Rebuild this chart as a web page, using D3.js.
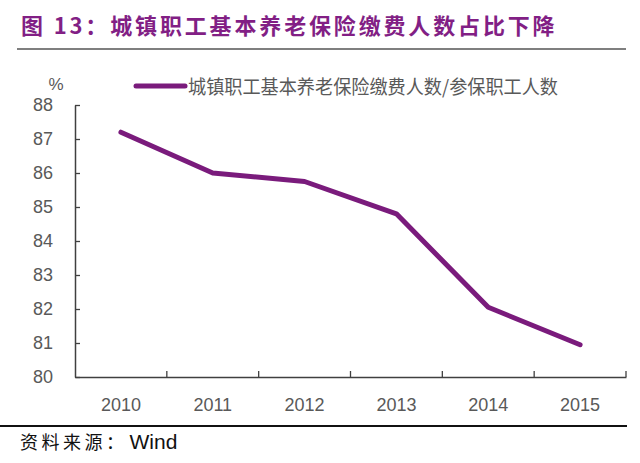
<!DOCTYPE html>
<html>
<head>
<meta charset="utf-8">
<script src="https://cdn.jsdelivr.net/npm/d3@7"></script>
<style>
  html, body { margin: 0; padding: 0; background: #fff; }
  svg { display: block; }
</style>
</head>
<body>
<script>
const years = ["2010", "2011", "2012", "2013", "2014", "2015"];
const ratio = [87.2, 86.0, 85.75, 84.8, 82.05, 80.95];
const yTicks = [80, 81, 82, 83, 84, 85, 86, 87, 88];
const titleText = "图 13：城镇职工基本养老保险缴费人数占比下降";
const seriesName = "城镇职工基本养老保险缴费人数/参保职工人数";
const sourceText = "资料来源：";
const sourceName = "Wind";
const unitLabel = "%";

const W = 640, H = 463;
const svg = d3.select("body").append("svg").attr("width", W).attr("height", H);

const cjk = "'Noto Sans CJK SC', 'Noto Sans', sans-serif";
const latin = "'Liberation Sans', Arial, sans-serif";
const purple = "#7a1b7c";
const gray = "#595959";

// Title
svg.append("text")
  .attr("x", 21).attr("y", 34)
  .attr("font-family", cjk).attr("font-weight", "bold")
  .attr("font-size", 22).attr("letter-spacing", 3.4)
  .attr("fill", "#821f85")
  .attr("textLength", 537).attr("lengthAdjust", "spacing")
  .text(titleText);
svg.append("line").attr("x1", 17).attr("x2", 626).attr("y1", 49).attr("y2", 49)
  .attr("stroke", "#555").attr("stroke-width", 1.5);

// Scales
const x = d3.scaleBand().domain(years).range([75, 626]).padding(0);
const y = d3.scaleLinear().domain([80, 88]).range([377, 105]);

// Y axis
const yAxis = svg.append("g").attr("transform", "translate(75,0)")
  .call(d3.axisLeft(y).tickValues(yTicks).tickSize(-5).tickPadding(22).tickSizeOuter(0));
yAxis.select(".domain").attr("stroke", "#404040").attr("stroke-width", 1.5);
yAxis.selectAll(".tick line").attr("stroke", "#404040").attr("stroke-width", 1.3);
yAxis.selectAll(".tick text").attr("fill", gray).attr("font-family", latin).attr("font-size", 18);

svg.append("text").attr("x", 56).attr("y", 90).attr("text-anchor", "middle")
  .attr("font-family", latin).attr("font-size", 17).attr("fill", gray).text(unitLabel);

// X axis
const xAxis = svg.append("g").attr("transform", "translate(0,377)")
  .call(d3.axisBottom(x).tickSize(0).tickPadding(21).tickSizeOuter(0));
xAxis.select(".domain").attr("stroke", "#404040").attr("stroke-width", 1.5);
xAxis.selectAll(".tick text").attr("fill", gray).attr("font-family", latin).attr("font-size", 18);
xAxis.selectAll(".boundary").data(years).enter().append("line")
  .attr("class", "boundary")
  .attr("x1", d => x(d) + x.bandwidth()).attr("x2", d => x(d) + x.bandwidth())
  .attr("y1", 0).attr("y2", -6)
  .attr("stroke", "#404040").attr("stroke-width", 1.3);

// Line
const line = d3.line()
  .x((d, i) => x(years[i]) + x.bandwidth() / 2)
  .y(d => y(d));
svg.append("path").datum(ratio)
  .attr("d", line)
  .attr("fill", "none").attr("stroke", purple).attr("stroke-width", 5)
  .attr("stroke-linejoin", "round").attr("stroke-linecap", "round");

// Legend
svg.append("line").attr("x1", 136).attr("x2", 185).attr("y1", 86).attr("y2", 86)
  .attr("stroke", purple).attr("stroke-width", 5).attr("stroke-linecap", "round");
svg.append("text").attr("x", 188).attr("y", 94)
  .attr("font-family", cjk).attr("font-size", 19).attr("fill", gray)
  .attr("textLength", 370).attr("lengthAdjust", "spacingAndGlyphs")
  .text(seriesName);

// Footer
svg.append("line").attr("x1", 0).attr("x2", 627).attr("y1", 426).attr("y2", 426)
  .attr("stroke", "#111").attr("stroke-width", 2);
const foot = svg.append("text").attr("x", 20).attr("y", 449).attr("fill", "#111");
foot.append("tspan").attr("font-family", cjk).attr("font-size", 18).attr("letter-spacing", 3.5).text(sourceText);
foot.append("tspan").attr("font-family", latin).attr("font-size", 21).attr("dx", 2).text(sourceName);
</script>
</body>
</html>
